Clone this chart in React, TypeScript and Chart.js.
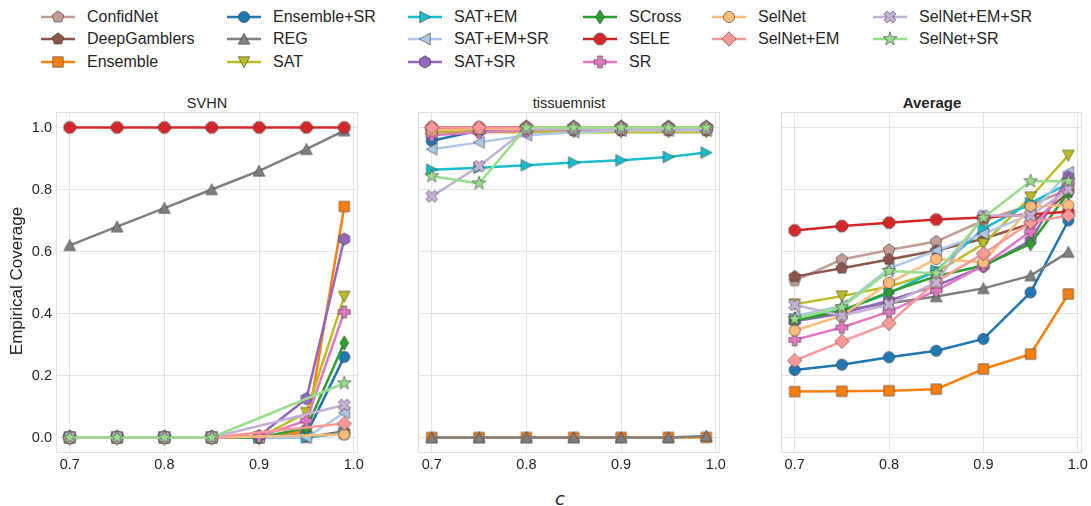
import React, { useEffect, useRef } from 'react';
import { Chart, registerables } from 'chart.js';

Chart.register(...registerables);

// ---------- data ----------
const cValues = [0.7, 0.75, 0.8, 0.85, 0.9, 0.95, 0.99];
const xTicks = [0.7, 0.8, 0.9, 1.0];
const yTicks = [0, 0.2, 0.4, 0.6, 0.8, 1.0];

const methods = [
  'ConfidNet', 'DeepGamblers', 'Ensemble',
  'Ensemble+SR', 'REG', 'SAT',
  'SAT+EM', 'SAT+EM+SR', 'SAT+SR',
  'SCross', 'SELE', 'SR',
  'SelNet', 'SelNet+EM',
  'SelNet+EM+SR', 'SelNet+SR',
];
const colors = [
  '#c49c94', '#8c564b', '#ff7f0e',
  '#1f77b4', '#7f7f7f', '#bcbd22',
  '#17becf', '#aec7e8', '#9467bd',
  '#2ca02c', '#d62728', '#e377c2',
  '#ffbb78', '#ff9896',
  '#c5b0d5', '#98df8a',
];
const markers = [
  'pentagon', 'pentagon', 'square',
  'circle', 'triUp', 'triDown',
  'triRight', 'triLeft', 'hexagon',
  'thinDiamond', 'octagon', 'plus',
  'circle', 'diamond',
  'xFilled', 'star',
];
// legend grid (column, row) per method, 6 columns
const legendCol = [0, 0, 0, 1, 1, 1, 2, 2, 2, 3, 3, 3, 4, 4, 5, 5];
const legendRow = [0, 1, 2, 0, 1, 2, 0, 1, 2, 0, 1, 2, 0, 1, 0, 1];

// SVHN (null = not reported)
const svhnConfidNet = [0, 0, 0, 0, 0, 0.005, 0.01];
const svhnDeepGamblers = [0, 0, 0, 0, 0, 0, 0.02];
const svhnEnsemble = [0, 0, 0, 0, 0, 0.02, 0.745];
const svhnEnsembleSR = [0, 0, 0, 0, 0, 0.01, 0.26];
const svhnREG = [0.62, 0.68, 0.74, 0.8, 0.86, 0.93, 0.99];
const svhnSAT = [0, 0, 0, 0, 0, 0.08, 0.455];
const svhnSATEM = [0, 0, 0, 0, 0, 0, 0.015];
const svhnSATEMSR = [0, 0, 0, 0, 0, 0, 0.08];
const svhnSATSR = [0, 0, 0, 0, 0.005, 0.125, 0.64];
const svhnSCross = [0, 0, 0, 0, 0, 0.03, 0.305];
const svhnSELE = [1, 1, 1, 1, 1, 1, 1];
const svhnSR = [0, 0, 0, 0, 0.003, 0.055, 0.405];
const svhnSelNet = [0, 0, 0, 0, null, null, 0.01];
const svhnSelNetEM = [0, 0, 0, 0, null, null, 0.045];
const svhnSelNetEMSR = [0, 0, 0, 0, null, null, 0.105];
const svhnSelNetSR = [0, 0, 0, 0, null, null, 0.175];

// tissuemnist
const tisConfidNet = [0.995, 0.995, 0.995, 0.995, 0.995, 0.995, 0.995];
const tisDeepGamblers = [0.99, 0.99, 0.99, 0.99, 0.99, 0.99, 0.99];
const tisEnsemble = [0, 0, 0, 0, 0, 0, 0];
const tisEnsembleSR = [0.957, 0.99, 0.995, 0.995, 0.995, 0.995, 0.995];
const tisREG = [0, 0, 0, 0, 0, 0, 0.005];
const tisSAT = [0.985, 0.985, 0.985, 0.985, 0.985, 0.985, 0.985];
const tisSATEM = [0.864, 0.87, 0.878, 0.887, 0.894, 0.905, 0.919];
const tisSATEMSR = [0.93, 0.952, 0.975, 0.985, 0.99, 0.99, 0.99];
const tisSATSR = [0.99, 0.995, 1, 1, 1, 1, 1];
const tisSCross = [0.99, 0.995, 1, 1, 1, 1, 1];
const tisSELE = [1, 1, 1, 1, 1, 1, 1];
const tisSR = [0.975, 0.985, 0.99, 0.995, 0.995, 0.995, 0.995];
const tisSelNet = [0.99, 0.995, 0.995, 0.995, 0.995, 0.995, 0.995];
const tisSelNetEM = [1, 1, 1, 1, 1, 1, 1];
const tisSelNetEMSR = [0.778, 0.875, 0.995, 0.995, 0.995, 0.995, 0.995];
const tisSelNetSR = [0.843, 0.82, 1, 1, 1, 1, 1];

// Average
const avgConfidNet = [0.506, 0.574, 0.605, 0.632, 0.7, 0.75, 0.8];
const avgDeepGamblers = [0.519, 0.546, 0.574, 0.603, 0.641, 0.69, 0.79];
const avgEnsemble = [0.148, 0.149, 0.151, 0.156, 0.221, 0.269, 0.463];
const avgEnsembleSR = [0.218, 0.235, 0.259, 0.28, 0.318, 0.468, 0.7];
const avgREG = [0.385, 0.41, 0.433, 0.455, 0.481, 0.522, 0.598];
const avgSAT = [0.43, 0.456, 0.487, 0.533, 0.625, 0.775, 0.91];
const avgSATEM = [0.382, 0.41, 0.465, 0.539, 0.673, 0.756, 0.82];
const avgSATEMSR = [0.391, 0.425, 0.545, 0.603, 0.657, 0.72, 0.856];
const avgSATSR = [0.375, 0.4, 0.442, 0.49, 0.552, 0.635, 0.84];
const avgSCross = [0.377, 0.409, 0.469, 0.52, 0.555, 0.625, 0.79];
const avgSELE = [0.668, 0.682, 0.693, 0.703, 0.71, 0.72, 0.728];
const avgSR = [0.315, 0.355, 0.406, 0.474, 0.555, 0.665, 0.82];
const avgSelNet = [0.345, 0.393, 0.499, 0.576, 0.565, 0.745, 0.749];
const avgSelNetEM = [0.248, 0.31, 0.368, 0.503, 0.593, 0.694, 0.716];
const avgSelNetEMSR = [0.428, 0.393, 0.429, 0.5, 0.716, 0.716, 0.8];
const avgSelNetSR = [0.383, 0.42, 0.537, 0.53, 0.709, 0.827, 0.827];

const svhnSeries = [svhnConfidNet, svhnDeepGamblers, svhnEnsemble, svhnEnsembleSR, svhnREG, svhnSAT, svhnSATEM, svhnSATEMSR, svhnSATSR, svhnSCross, svhnSELE, svhnSR, svhnSelNet, svhnSelNetEM, svhnSelNetEMSR, svhnSelNetSR];
const tisSeries = [tisConfidNet, tisDeepGamblers, tisEnsemble, tisEnsembleSR, tisREG, tisSAT, tisSATEM, tisSATEMSR, tisSATSR, tisSCross, tisSELE, tisSR, tisSelNet, tisSelNetEM, tisSelNetEMSR, tisSelNetSR];
const avgSeries = [avgConfidNet, avgDeepGamblers, avgEnsemble, avgEnsembleSR, avgREG, avgSAT, avgSATEM, avgSATEMSR, avgSATSR, avgSCross, avgSELE, avgSR, avgSelNet, avgSelNetEM, avgSelNetEMSR, avgSelNetSR];

// ---------- markers ----------
const FONT = '"Liberation Sans", Arial, sans-serif';
const TEXT = '#262626';
const EDGE = 'rgba(60,60,60,0.75)';

function poly(ctx: CanvasRenderingContext2D, n: number, r: number, start: number) {
  ctx.beginPath();
  for (let k = 0; k < n; k++) {
    const a = start + (k * 2 * Math.PI) / n;
    const px = r * Math.cos(a);
    const py = r * Math.sin(a);
    if (k === 0) ctx.moveTo(px, py); else ctx.lineTo(px, py);
  }
  ctx.closePath();
}

function pts(ctx: CanvasRenderingContext2D, p: number[][]) {
  ctx.beginPath();
  p.forEach(([a, b], k) => (k === 0 ? ctx.moveTo(a, b) : ctx.lineTo(a, b)));
  ctx.closePath();
}

function markerPath(ctx: CanvasRenderingContext2D, shape: string) {
  const t = 5.8;
  switch (shape) {
    case 'circle': ctx.beginPath(); ctx.arc(0, 0, 5.6, 0, Math.PI * 2); break;
    case 'square': ctx.beginPath(); ctx.rect(-5.2, -5.2, 10.4, 10.4); break;
    case 'triUp': pts(ctx, [[0, -t], [-t, t * 0.9], [t, t * 0.9]]); break;
    case 'triDown': pts(ctx, [[0, t], [-t, -t * 0.9], [t, -t * 0.9]]); break;
    case 'triRight': pts(ctx, [[t, 0], [-t * 0.9, -t], [-t * 0.9, t]]); break;
    case 'triLeft': pts(ctx, [[-t, 0], [t * 0.9, -t], [t * 0.9, t]]); break;
    case 'pentagon': poly(ctx, 5, 6.2, -Math.PI / 2); break;
    case 'hexagon': poly(ctx, 6, 6.2, -Math.PI / 2); break;
    case 'octagon': poly(ctx, 8, 6.3, Math.PI / 8); break;
    case 'diamond': pts(ctx, [[0, -7.2], [7.2, 0], [0, 7.2], [-7.2, 0]]); break;
    case 'thinDiamond': pts(ctx, [[0, -7.2], [4.4, 0], [0, 7.2], [-4.4, 0]]); break;
    case 'plus': {
      const a = 6, w = 2.3;
      pts(ctx, [[-w, -a], [w, -a], [w, -w], [a, -w], [a, w], [w, w], [w, a], [-w, a], [-w, w], [-a, w], [-a, -w], [-w, -w]]);
      break;
    }
    case 'xFilled': {
      const a = 6.2, w = 2.2;
      const base = [[-w, -a], [w, -a], [w, -w], [a, -w], [a, w], [w, w], [w, a], [-w, a], [-w, w], [-a, w], [-a, -w], [-w, -w]];
      const c = Math.cos(Math.PI / 4), s = Math.sin(Math.PI / 4);
      pts(ctx, base.map(([x, y]) => [x * c - y * s, x * s + y * c]));
      break;
    }
    case 'star': {
      const p: number[][] = [];
      for (let k = 0; k < 10; k++) {
        const r = k % 2 === 0 ? 7.2 : 2.9;
        const a = -Math.PI / 2 + (k * Math.PI) / 5;
        p.push([r * Math.cos(a), r * Math.sin(a)]);
      }
      pts(ctx, p);
      break;
    }
    default: ctx.beginPath(); ctx.arc(0, 0, 5.5, 0, Math.PI * 2);
  }
}

function drawMarker(ctx: CanvasRenderingContext2D, shape: string, cx: number, cy: number, fill: string) {
  ctx.save();
  ctx.translate(cx, cy);
  markerPath(ctx, shape);
  ctx.fillStyle = fill;
  ctx.fill();
  ctx.lineWidth = 0.8;
  ctx.strokeStyle = EDGE;
  ctx.stroke();
  ctx.restore();
}

function makeMarkerCanvas(shape: string, fill: string) {
  const c = document.createElement('canvas');
  c.width = 20;
  c.height = 20;
  const ctx = c.getContext('2d')!;
  drawMarker(ctx, shape, 10, 10, fill);
  return c;
}

// ---------- chart panel ----------
const framePlugin = {
  id: 'frame',
  beforeDatasetsDraw(chart: any) {
    const { ctx, chartArea: a } = chart;
    ctx.save();
    ctx.strokeStyle = '#e0e0e0';
    ctx.lineWidth = 1;
    ctx.strokeRect(Math.round(a.left) + 0.5, Math.round(a.top) + 0.5, Math.round(a.right - a.left) - 1, Math.round(a.bottom - a.top) - 1);
    ctx.restore();
  },
};

type PanelProps = {
  series: (number | null)[][];
  left: number;
  width: number;
  yAxisWidth: number;
  padRight: number;
  showY: boolean;
};

const PANEL_TOP = 96;
const PANEL_H = 384;

function Panel({ series, left, width, yAxisWidth, padRight, showY }: PanelProps) {
  const ref = useRef<HTMLCanvasElement>(null);
  useEffect(() => {
    const n = methods.length;
    const datasets = methods.map((m, i) => ({
      label: m,
      data: cValues.map((c, j) => ({ x: c, y: series[i][j] })),
      borderColor: colors[i],
      backgroundColor: colors[i],
      borderWidth: 2.5,
      pointStyle: makeMarkerCanvas(markers[i], colors[i]) as any,
      pointRadius: 6,
      pointHoverRadius: 6,
      tension: 0,
      spanGaps: true,
      order: n - i,
      clip: false as any,
    }));
    const chart = new Chart(ref.current!, {
      type: 'line',
      data: { datasets },
      plugins: [framePlugin],
      options: {
        animation: false,
        responsive: false,
        devicePixelRatio: 1,
        events: [],
        layout: { padding: { top: 16, right: padRight, bottom: 0, left: 0 } },
        plugins: { legend: { display: false }, tooltip: { enabled: false }, title: { display: false } },
        scales: {
          x: {
            type: 'linear',
            min: 0.6855,
            max: 1.0045,
            afterBuildTicks: (s: any) => { s.ticks = xTicks.map((v) => ({ value: v })); },
            afterFit: (s: any) => { s.height = 27; },
            ticks: {
              callback: (v: any) => Number(v).toFixed(1),
              font: { family: FONT, size: 14.5 },
              color: TEXT,
              padding: 3,
              maxRotation: 0,
              autoSkip: false,
            },
            grid: { color: '#e5e5e5', lineWidth: 1, drawTicks: false },
            border: { display: false },
          },
          y: {
            type: 'linear',
            min: -0.05,
            max: 1.05,
            afterBuildTicks: (s: any) => { s.ticks = yTicks.map((v) => ({ value: v })); },
            afterFit: (s: any) => { s.width = yAxisWidth; },
            ticks: {
              display: showY,
              callback: (v: any) => Number(v).toFixed(1),
              font: { family: FONT, size: 14.5 },
              color: TEXT,
              padding: 4,
            },
            grid: { color: '#e5e5e5', lineWidth: 1, drawTicks: false },
            border: { display: false },
          },
        },
      } as any,
    });
    return () => chart.destroy();
  }, []);
  return (
    <canvas
      ref={ref}
      width={width}
      height={PANEL_H}
      style={{ position: 'absolute', left, top: PANEL_TOP, width, height: PANEL_H }}
    />
  );
}

function LegendIcon({ idx }: { idx: number }) {
  const ref = useRef<HTMLCanvasElement>(null);
  useEffect(() => {
    const ctx = ref.current!.getContext('2d')!;
    ctx.clearRect(0, 0, 36, 20);
    ctx.strokeStyle = colors[idx];
    ctx.lineWidth = 2.5;
    ctx.beginPath();
    ctx.moveTo(1, 10);
    ctx.lineTo(35, 10);
    ctx.stroke();
    drawMarker(ctx, markers[idx], 18, 10, colors[idx]);
  }, []);
  return <canvas ref={ref} width={36} height={20} style={{ position: 'absolute', left: 0, top: 0 }} />;
}

const legendColX = [40, 226, 407, 582, 711, 872];
const legendRowY = [17, 39, 62];

export default function App() {
  return (
    <div style={{ position: 'absolute', left: 0, top: 0, width: 1091, height: 506, background: '#fff', fontFamily: FONT, color: TEXT, overflow: 'hidden' }}>
      {methods.map((m, i) => (
        <div key={m} style={{ position: 'absolute', left: legendColX[legendCol[i]], top: legendRowY[legendRow[i]] - 10, height: 20, width: 180 }}>
          <LegendIcon idx={i} />
          <span style={{ position: 'absolute', left: 47, top: 0, lineHeight: '20px', fontSize: 16, whiteSpace: 'nowrap' }}>{m}</span>
        </div>
      ))}

      <div style={{ position: 'absolute', left: 56, width: 302, top: 94, textAlign: 'center', fontSize: 14.5, lineHeight: '18px' }}>SVHN</div>
      <div style={{ position: 'absolute', left: 418, width: 302, top: 94, textAlign: 'center', fontSize: 14.5, lineHeight: '18px' }}>tissuemnist</div>
      <div style={{ position: 'absolute', left: 781, width: 302, top: 94, textAlign: 'center', fontSize: 15, lineHeight: '18px', fontWeight: 'bold' }}>Average</div>

      <Panel series={svhnSeries} left={20} width={350} yAxisWidth={36} padRight={12} showY={true} />
      <Panel series={tisSeries} left={380} width={350} yAxisWidth={38} padRight={10} showY={false} />
      <Panel series={avgSeries} left={740} width={351} yAxisWidth={41} padRight={8} showY={false} />

      <div style={{ position: 'absolute', left: 17, top: 281, width: 0, height: 0 }}>
        <div style={{ position: 'absolute', left: -100, top: -11, width: 200, textAlign: 'center', fontSize: 17, lineHeight: '22px', transform: 'rotate(-90deg)', whiteSpace: 'nowrap' }}>Empirical Coverage</div>
      </div>
      <div style={{ position: 'absolute', left: 540, top: 488, width: 40, textAlign: 'center', fontSize: 18, lineHeight: '22px', fontStyle: 'italic', fontFamily: '"DejaVu Sans", sans-serif' }}>c</div>
    </div>
  );
}
